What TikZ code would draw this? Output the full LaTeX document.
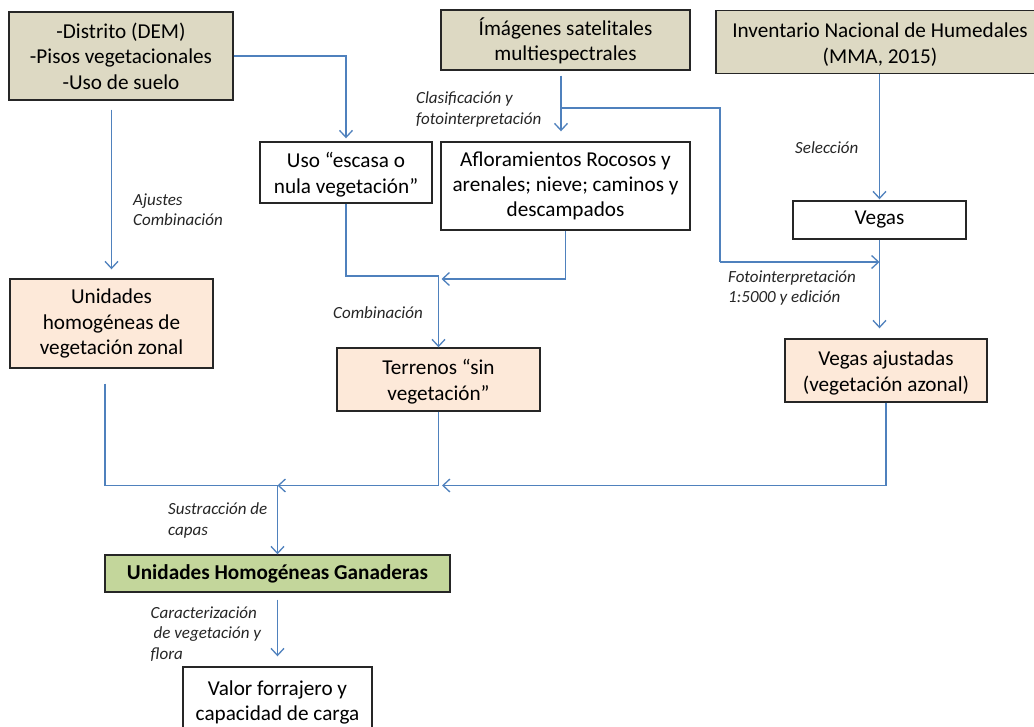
\documentclass[tikz,border=0pt]{standalone}
\usepackage{fontspec}
\setmainfont{Carlito}
\usetikzlibrary{arrows.meta}
\definecolor{tanfill}{HTML}{DDD9C3}
\definecolor{peach}{HTML}{FDE9D9}
\definecolor{greenfill}{HTML}{C3D69B}
\definecolor{lineblue}{HTML}{4F81BD}
\definecolor{boxborder}{HTML}{262626}
\newcommand{\boxstrut}{\rule{0pt}{19.6pt}}
\tikzset{
  box/.style={draw=boxborder, line width=1.4pt, align=center, inner sep=0pt,
    font=\fontsize{21.2}{25.4}\selectfont, text=black},
  tanbox/.style={box, fill=tanfill},
  peachbox/.style={box, fill=peach},
  greenbox/.style={box, fill=greenfill, font=\fontsize{21.2}{25.4}\selectfont\bfseries},
  whitebox/.style={box, fill=white},
  lbl/.style={anchor=west, align=left, inner sep=0pt, text=boxborder,
    font=\fontsize{17}{20.3}\selectfont\itshape},
  con/.style={draw=lineblue, line width=1.3pt},
  arr/.style={con, -{Straight Barb[length=7pt,width=13pt,line width=1.3pt]}}
}
\begin{document}
\begin{tikzpicture}[x=1pt,y=-1pt]
\useasboundingbox (0,0) rectangle (1034,727);
\fill[white] (0,0) rectangle (1034,727);
\clip (0,0) rectangle (1034,727);

% boxes
\node[tanbox, minimum width=224pt, minimum height=88pt] (dist) at (121,56)
  {-Distrito (DEM)\\-Pisos vegetacionales\\-Uso de suelo};
\node[tanbox, minimum width=249pt, minimum height=60pt] (img) at (565.5,40)
  {\boxstrut\smash{Í}mágenes satelitales\\multiespectrales};
\node[tanbox, minimum width=328pt, minimum height=63pt] (inv) at (880,42)
  {\boxstrut Inventario Nacional de Humedales\\(MMA, 2015)};
\node[whitebox, minimum width=172pt, minimum height=61pt] (uso) at (346,172.5)
  {\boxstrut Uso “escasa o\\nula vegetación”};
\node[whitebox, minimum width=249pt, minimum height=88pt] (aflo) at (565.5,186)
  {Afloramientos Rocosos y\\arenales; nieve; caminos y\\descampados};
\node[whitebox, minimum width=173pt, minimum height=38pt] (vegas) at (879.5,220)
  {Vegas};
\node[peachbox, minimum width=203pt, minimum height=89pt] (unid) at (111.5,323.5)
  {Unidades\\homogéneas de\\vegetación zonal};
\node[peachbox, minimum width=203pt, minimum height=63pt] (terr) at (438.5,379.5)
  {\boxstrut Terrenos “sin\\vegetación”};
\node[peachbox, minimum width=202pt, minimum height=63pt] (vaj) at (886,370.5)
  {\boxstrut Vegas ajustadas\\(vegetación azonal)};
\node[greenbox, minimum width=345pt, minimum height=37pt] (uhg) at (277.5,573.5)
  {Unidades Homogéneas Ganaderas};
\node[whitebox, minimum width=189pt, minimum height=66pt] (valor) at (277.5,700)
  {\boxstrut Valor forrajero y\\capacidad de carga};

% junction coordinates
\coordinate (jA) at (561,108);
\coordinate (jB) at (720,262);
\coordinate (jV) at (879.5,262);
\coordinate (jC) at (438.5,276);
\coordinate (jC2) at (441.5,279);
\coordinate (jD) at (277.5,485.5);
\coordinate (jE) at (442,485.5);

% connectors
\draw[arr, shorten <=9pt, shorten >=9pt] (dist.south -| unid.north) -- (unid.north);
\draw[arr, shorten >=3pt] (dist.east) -| (uso.north);
\draw[arr, shorten <=5pt, shorten >=10pt] (jA |- img.south) -- (jA |- aflo.north);
\draw[con] (jA) -- (jB |- jA) -- (jB);
\draw[arr] (jB) -- (jV);
\draw[arr, shorten >=1pt] (inv.south -| vegas.north) -- (vegas.north);
\draw[arr, shorten >=10pt] (vegas.south) -- (vegas.south |- vaj.north);
\draw[con] (uso.south) |- (jC);
\draw[arr] (jC) -- (terr.north);
\draw[arr] (aflo.south) |- (jC2);
\draw[con, shorten <=15pt] ([xshift=-6.5pt]unid.south) |- (jD);
\draw[arr] (terr.south) |- (jD);
\draw[arr] (vaj.south) |- (jE);
\draw[arr] (jD) -- (uhg.north);
\draw[arr, shorten <=7pt, shorten >=10pt] (uhg.south) -- (valor.north);

% labels
\node[lbl] (lclas) at (416,109.5) {Clasificación y\\fotointerpretación};
\node[lbl] (lsel) at (795,148) {Selección};
\node[lbl] (lajus) at (133,210) {Ajustes\\Combinación};
\node[lbl] (lcomb) at (333,313) {Combinación};
\node[lbl] (lfoto) at (728,288) {Fotointerpretación\\1:5000 y edición};
\node[lbl] (lsust) at (168,520.5) {Sustracción de\\capas};
\node[lbl] (lcar) at (150.5,634) {Caracterización\\\hspace{3pt}de vegetación y\\flora};
\end{tikzpicture}
\end{document}
